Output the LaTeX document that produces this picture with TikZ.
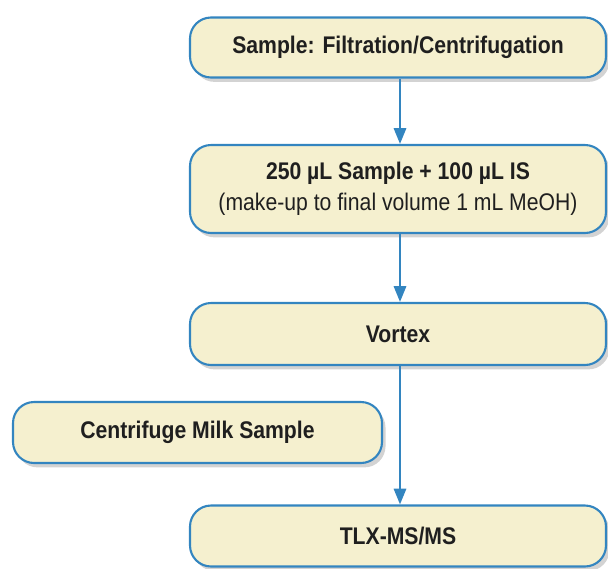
\documentclass[tikz,border=0pt]{standalone}
\usepackage{fontspec}
\setmainfont{Liberation Sans}[FakeStretch=0.88]
\usetikzlibrary{shadows,arrows.meta}

\definecolor{boxfill}{HTML}{F5F0CF}
\definecolor{boxline}{HTML}{3385C0}

\tikzset{
  stepbox/.style={draw=boxline, line width=1.2pt, fill=boxfill, rounded corners=12pt,
    minimum width=416*0.02cm, align=center, font=\fontsize{13.7}{17.5}\selectfont,
    text=black!88,
    drop shadow={shadow xshift=2pt, shadow yshift=-2.5pt, opacity=0.35}},
  flow/.style={draw=boxline, line width=1.3pt, -{Triangle[width=7pt,length=9pt]}}
}

\begin{document}
\begin{tikzpicture}[x=0.02cm, y=-0.02cm]
\useasboundingbox (0, 0) rectangle (608, 568);
\node[stepbox, minimum height=60*0.02cm] (filt) at (398, 47.5) {\textbf{Sample: Filtration/Centrifugation}};
\node[stepbox, minimum height=88*0.02cm] (mix) at (398, 189) {\textbf{250 µL Sample + 100 µL IS}\\(make-up to final volume 1 mL MeOH)};
\node[stepbox, minimum height=62*0.02cm] (vortex) at (398, 334) {\textbf{Vortex}};
\node[stepbox, minimum height=61*0.02cm, minimum width=369*0.02cm] (milk) at (197.5, 432.5) {\textbf{Centrifuge Milk Sample}};
\node[stepbox, minimum height=61*0.02cm] (tlx) at (398, 536) {\textbf{TLX-MS/MS}};
\draw[flow] (filt.south -| 400, 0) -- (mix.north -| 400, 0);
\draw[flow] (mix.south -| 400, 0) -- (vortex.north -| 400, 0);
\draw[flow] (vortex.south -| 400, 0) -- (tlx.north -| 400, 0);
\end{tikzpicture}
\end{document}
